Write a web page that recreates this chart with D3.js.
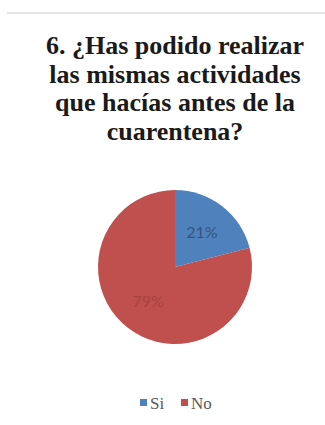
<!DOCTYPE html>
<html>
<head>
<meta charset="utf-8">
<script src="https://cdn.jsdelivr.net/npm/d3@7"></script>
<style>
  html, body { margin: 0; padding: 0; background: #ffffff; }
  #wrap { position: relative; width: 325px; height: 425px; }
  #chart { position: absolute; left: 0; top: 0; display: block; }
  #title {
    position: absolute; left: 25px; top: 32px; width: 300px;
    text-align: center;
    font-family: "Liberation Serif", "Times New Roman", Tinos, serif;
    font-weight: bold; font-size: 26px; line-height: 28.7px; color: #1a1a1a;
  }
  .legend text { font-family: "Liberation Serif", "Times New Roman", serif; }
  .slice-label { font-family: Lato, "Open Sans", sans-serif; }
</style>
</head>
<body>
<div id="wrap">
  <svg id="chart" width="325" height="425"></svg>
  <div id="title"></div>
</div>
<script>
// Survey answers: share of respondents per answer
const categories = ["Si", "No"];
const values = [21, 79];
const colors = ["#4f81bd", "#c0504d"];
const titleLines = [
  "6. ¿Has podido realizar",
  "las mismas actividades",
  "que hacías antes de la",
  "cuarentena?"
];

// title block, one line per entry
d3.select("#title")
  .selectAll("div")
  .data(titleLines)
  .join("div")
  .text(d => d);

const svg = d3.select("#chart");

// thin rule across the top of the slide
svg.append("rect")
  .attr("x", 7).attr("y", 12)
  .attr("width", 318).attr("height", 2)
  .attr("fill", "#e6e6e6");

// pie
const cx = 175, cy = 267, r = 77;
const data = categories.map((c, i) => ({ cat: c, value: values[i] }));
const pie = d3.pie().value(d => d.value).sort(null);
const arc = d3.arc().innerRadius(0).outerRadius(r);
const labelArc = d3.arc().innerRadius(r * 0.57).outerRadius(r * 0.57);
const color = d3.scaleOrdinal().domain(categories).range(colors);

const g = svg.append("g").attr("transform", `translate(${cx},${cy})`);
const arcs = pie(data);

g.selectAll("path")
  .data(arcs)
  .join("path")
  .attr("d", arc)
  .attr("fill", d => color(d.data.cat));

g.selectAll("text")
  .data(arcs)
  .join("text")
  .attr("class", "slice-label")
  .attr("transform", d => `translate(${labelArc.centroid(d)})`)
  .attr("text-anchor", "middle")
  .attr("dy", "0.35em")
  .attr("font-size", 16)
  .attr("fill", (d, i) => i === 0 ? "#34557f" : "#a8423f")
  .text(d => d.data.value + "%");

// legend
const legend = svg.append("g").attr("class", "legend").attr("transform", "translate(0,403)");
const legendX = [140, 181];
const items = legend.selectAll("g")
  .data(categories)
  .join("g")
  .attr("transform", (d, i) => `translate(${legendX[i]},0)`);
items.append("rect")
  .attr("x", 0).attr("y", -4)
  .attr("width", 7).attr("height", 7)
  .attr("fill", d => color(d));
items.append("text")
  .attr("x", 10)
  .attr("y", 6)
  .attr("font-size", 17)
  .attr("fill", "#595959")
  .text(d => d);
</script>
</body>
</html>
